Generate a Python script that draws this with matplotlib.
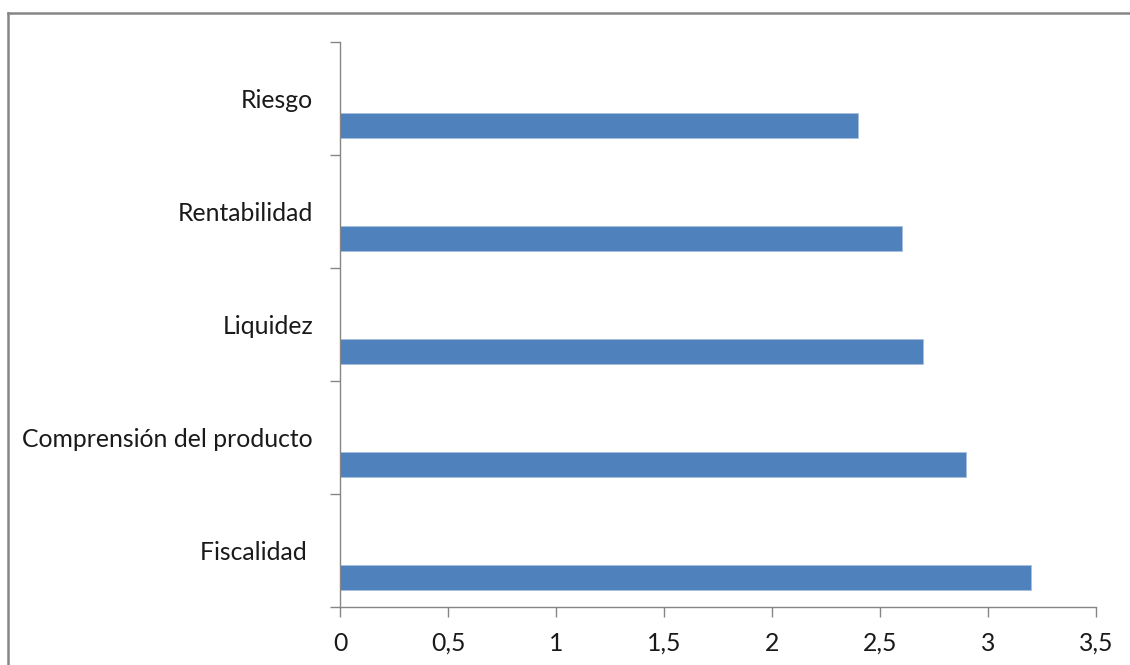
import matplotlib.pyplot as plt
import numpy as np
from matplotlib.lines import Line2D
from matplotlib.ticker import FixedLocator, FuncFormatter

# data, bottom to top
categories = ['Fiscalidad ', 'Comprensión del producto', 'Liquidez', 'Rentabilidad', 'Riesgo']
values = [3.2, 2.9, 2.7, 2.6, 2.4]
x_ticks = [0, 0.5, 1, 1.5, 2, 2.5, 3, 3.5]

plt.rcParams['font.family'] = ['Lato', 'DejaVu Sans']
axis_grey = '#868686'
bar_blue = '#4f81bd'

fig = plt.figure(figsize=(11.3, 6.65), dpi=100)
ax = fig.add_axes([340/1130, 58/665, 756/1130, 565/665])

pos = np.arange(len(categories))
# bars sit in the lower half of each band (excel style)
ax.barh(pos - 0.24, values, height=0.22, color=bar_blue, edgecolor='#a7bfde', linewidth=0.6)

ax.set_xlim(0, 3.5)
ax.set_ylim(-0.5, len(categories) - 0.5)

ax.set_xticks(x_ticks)
ax.xaxis.set_major_formatter(FuncFormatter(lambda v, p: ('%g' % v).replace('.', ',')))
ax.tick_params(axis='x', direction='out', length=7.2, width=1, color=axis_grey,
               pad=10.5, labelsize=17.8, labelcolor='#1a1a1a')

# band boundaries as major ticks, names as minor ticks
ax.yaxis.set_major_locator(FixedLocator(np.arange(-0.5, len(categories), 1.0)))
ax.yaxis.set_major_formatter(FuncFormatter(lambda v, p: ''))
ax.yaxis.set_minor_locator(FixedLocator(pos))
ax.set_yticklabels(categories, minor=True)
ax.tick_params(axis='y', which='major', direction='out', length=7.2, width=1, color=axis_grey)
ax.tick_params(axis='y', which='minor', length=0, pad=19.5, labelsize=17.8, labelcolor='#1a1a1a')

for s in ['top', 'right']:
    ax.spines[s].set_visible(False)
for s in ['left', 'bottom']:
    ax.spines[s].set_color(axis_grey)
    ax.spines[s].set_linewidth(1)

# outer chart frame (left and top edges visible)
fig.add_artist(Line2D([7.5/1130, 7.5/1130], [0, 1 - 13/665], transform=fig.transFigure,
                      color=axis_grey, linewidth=1.8))
fig.add_artist(Line2D([7.5/1130, 1], [1 - 13/665, 1 - 13/665], transform=fig.transFigure,
                      color=axis_grey, linewidth=1.8))

fig.savefig('out.png', dpi=100)
